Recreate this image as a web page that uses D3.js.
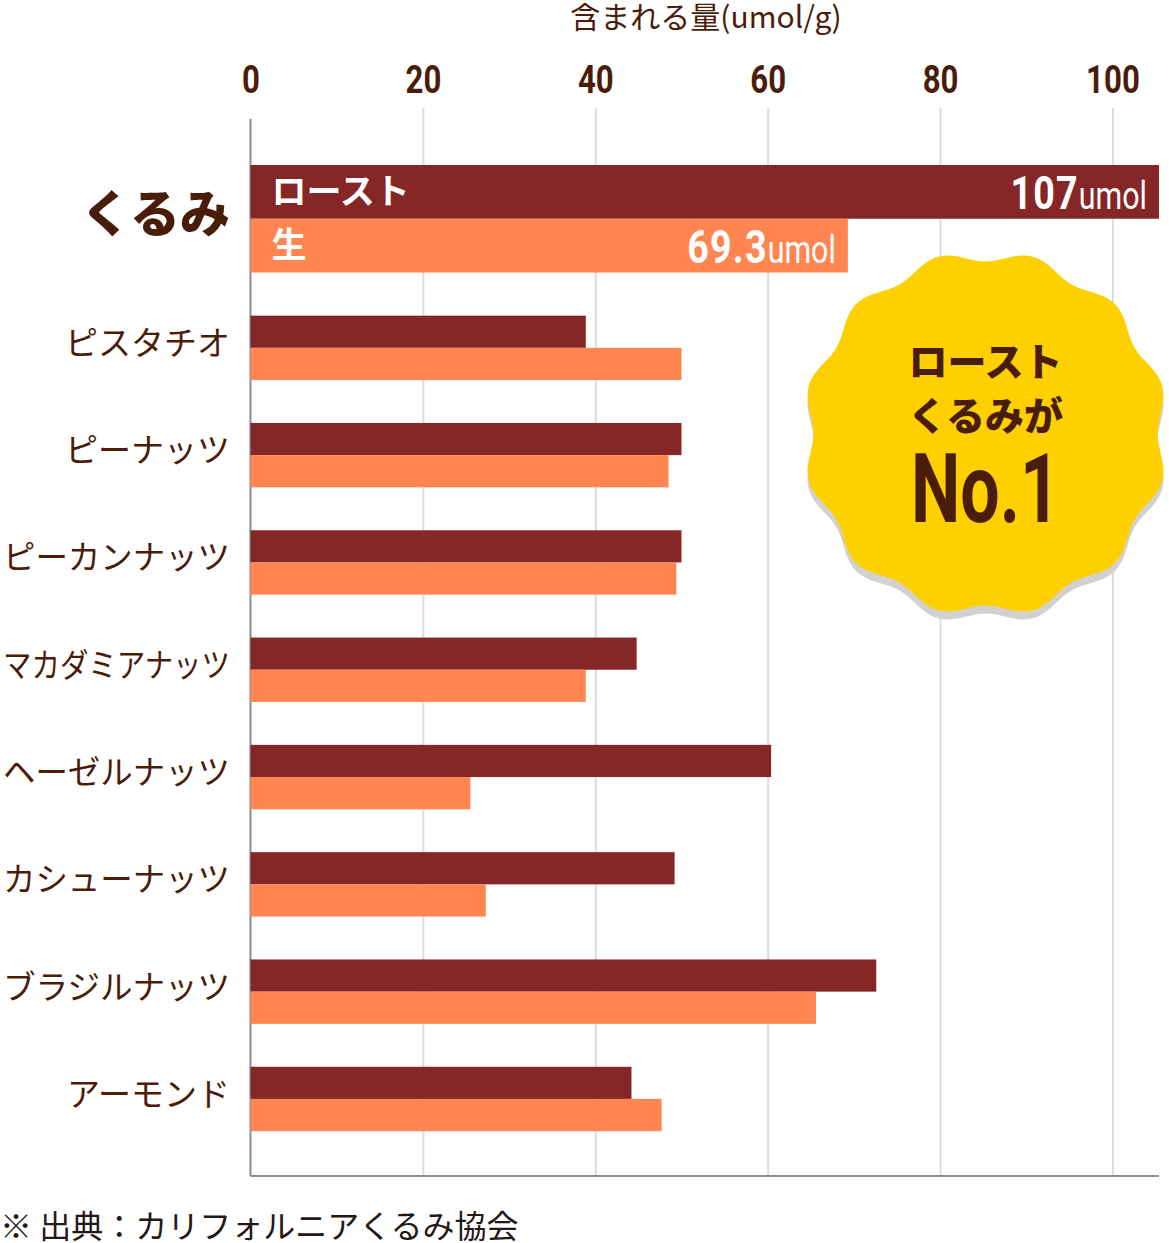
<!DOCTYPE html>
<html>
  <head>
    <meta charset="utf-8" />
    <title>含まれる量</title>
    <script src="https://d3js.org/d3.v7.min.js"></script>
    <style>
      body { margin: 0; background: #fff; }
      svg { display: block; }
    </style>
  </head>
  <body>
    <svg id="chart" width="1169" height="1243"></svg>

    <script>
      // Datos
      const walnutName = "くるみ";
      const walnutRoast = 107;
      const walnutRaw = 69.3;
      const categories = ["ピスタチオ", "ピーナッツ", "ピーカンナッツ", "マカダミアナッツ", "ヘーゼルナッツ", "カシューナッツ", "ブラジルナッツ", "アーモンド"];
      const roastValues = [38.9, 50.0, 50.0, 44.8, 60.4, 49.2, 72.6, 44.2];
      const rawValues = [50.0, 48.5, 49.4, 38.9, 25.5, 27.3, 65.6, 47.7];
      const seriesNames = ["ロースト", "生"];
      const xTicks = [0, 20, 40, 60, 80, 100];
      const unit = "umol";
      const axisTitle = "含まれる量(umol/g)";
      const badgeLines = ["ロースト", "くるみが", "No.1"];
      const footnote = "※ 出典：カリフォルニアくるみ協会";

      const brown = "#4a1c0a";
      const colors = { roast: "#862727", raw: "#ff8551" };
      const jp = "'Noto Sans CJK JP', 'Noto Sans', sans-serif";
      const cond = "Roboto, 'Noto Sans', sans-serif";

      const svg = d3.select("#chart");
      const gridTop = 108, gridBottom = 1176;
      const labelRight = 230, labelMaxWidth = 227;

      // Escalas
      const x = d3.scaleLinear().domain([0, 105.4]).range([250.5, 1159]).clamp(true);
      const yWalnut = d3.scaleBand().domain([walnutName]).range([165, 272.5]);
      const y = d3.scaleBand().domain(categories).range([294.2, 1152.6]).paddingInner(0.4).paddingOuter(0.2);
      const inner = d3.scaleBand().domain(["roast", "raw"]);

      // Título del eje
      svg.append("text")
        .attr("x", 706).attr("y", 28)
        .attr("text-anchor", "middle")
        .attr("font-family", jp).attr("font-size", 30)
        .attr("fill", brown)
        .text(axisTitle);

      // Líneas de cuadrícula
      const grid = svg.append("g")
        .attr("transform", `translate(0,${gridTop})`)
        .call(d3.axisBottom(x).tickValues(xTicks.slice(1)).tickSize(gridBottom - gridTop).tickFormat(""));
      grid.select(".domain").remove();
      grid.selectAll("line").attr("stroke", "#dcdcdc").attr("stroke-width", 2);

      // Etiquetas del eje x (arriba)
      const xAxis = svg.append("g")
        .attr("transform", "translate(0,93)")
        .call(d3.axisTop(x).tickValues(xTicks).tickSize(0).tickPadding(0));
      xAxis.select(".domain").remove();
      xAxis.selectAll("text")
        .attr("font-family", cond).attr("font-weight", 700).attr("font-size", 39)
        .attr("fill", brown)
        .attr("transform", "scale(0.8,1)");

      // Ejes
      svg.append("line")
        .attr("x1", x(0)).attr("x2", x(0)).attr("y1", 119).attr("y2", gridBottom)
        .attr("stroke", "#8e8e8e").attr("stroke-width", 2);
      svg.append("line")
        .attr("x1", x(0)).attr("x2", x.range()[1]).attr("y1", gridBottom).attr("y2", gridBottom)
        .attr("stroke", "#8e8e8e").attr("stroke-width", 2);

      // Barras de くるみ
      inner.range([0, yWalnut.bandwidth()]);
      const walnutRows = [
        { key: "roast", name: seriesNames[0], value: walnutRoast },
        { key: "raw", name: seriesNames[1], value: walnutRaw },
      ];
      const wg = svg.append("g").attr("transform", `translate(0,${yWalnut(walnutName)})`);
      wg.selectAll("rect").data(walnutRows).join("rect")
        .attr("x", x(0)).attr("y", (d) => inner(d.key))
        .attr("width", (d) => x(d.value) - x(0))
        .attr("height", inner.bandwidth())
        .attr("fill", (d) => colors[d.key]);
      wg.selectAll("text.series").data(walnutRows).join("text")
        .attr("class", "series")
        .attr("x", x(0) + 21).attr("y", (d) => inner(d.key) + inner.bandwidth() / 2)
        .attr("dy", "0.36em")
        .attr("font-family", jp).attr("font-weight", 700).attr("font-size", 35)
        .attr("fill", "#fff")
        .text((d) => d.name);
      const vals = wg.selectAll("text.val").data(walnutRows).join("text")
        .attr("class", "val")
        .attr("text-anchor", "end")
        .attr("transform", (d) => `translate(${x(d.value) - 12},${inner(d.key) + inner.bandwidth() - 10}) scale(0.8,1)`)
        .attr("fill", "#fff");
      vals.append("tspan")
        .attr("font-family", cond).attr("font-weight", 700).attr("font-size", 47)
        .attr("letter-spacing", 1.5)
        .text((d) => d.value);
      vals.append("tspan")
        .attr("font-family", cond).attr("font-weight", 400).attr("font-size", 38)
        .text(unit);

      svg.append("text")
        .attr("x", labelRight).attr("y", yWalnut(walnutName) + yWalnut.bandwidth() / 2 - 5)
        .attr("dy", "0.36em")
        .attr("text-anchor", "end")
        .attr("font-family", jp).attr("font-weight", 900).attr("font-size", 50)
        .attr("fill", brown)
        .text(walnutName);

      // Barras del resto de frutos secos
      inner.range([0, y.bandwidth()]);
      const rows = categories.map((c, i) => ({ cat: c, roast: roastValues[i], raw: rawValues[i] }));
      const groups = svg.append("g").selectAll("g").data(rows).join("g")
        .attr("transform", (d) => `translate(0,${y(d.cat)})`);
      groups.selectAll("rect")
        .data((d) => ["roast", "raw"].map((k) => ({ key: k, value: d[k] })))
        .join("rect")
        .attr("x", x(0)).attr("y", (d) => inner(d.key))
        .attr("width", (d) => x(d.value) - x(0))
        .attr("height", inner.bandwidth())
        .attr("fill", (d) => colors[d.key]);
      groups.append("text")
        .attr("x", labelRight).attr("y", y.bandwidth() / 2 - 5)
        .attr("dy", "0.36em")
        .attr("text-anchor", "end")
        .attr("font-family", jp).attr("font-size", 33)
        .attr("fill", brown)
        .text((d) => d.cat)
        .each(function () {
          // Las etiquetas largas se comprimen para caber en el margen
          if (this.getComputedTextLength() > labelMaxWidth) {
            d3.select(this).attr("textLength", labelMaxWidth).attr("lengthAdjust", "spacingAndGlyphs");
          }
        });

      // Insignia "No.1"
      const bx = 985.5, by = 433.5;
      const wavy = d3.lineRadial()
        .angle((d) => (d * Math.PI) / 180)
        .radius((d) => 177.5 - 5.5 * Math.cos((12 * d * Math.PI) / 180))
        .curve(d3.curveCardinalClosed);
      const angles = d3.range(0, 360, 3);
      svg.append("path")
        .attr("transform", `translate(${bx},${by + 8})`)
        .attr("d", wavy(angles))
        .attr("fill", "#d3d0d0");
      svg.append("path")
        .attr("transform", `translate(${bx},${by})`)
        .attr("d", wavy(angles))
        .attr("fill", "#ffd000");
      const badge = svg.append("g").attr("transform", `translate(${bx},0)`);
      badge.selectAll("text.jp").data(badgeLines.slice(0, 2)).join("text")
        .attr("class", "jp")
        .attr("y", (d, i) => 376 + i * 54)
        .attr("text-anchor", "middle")
        .attr("font-family", jp).attr("font-weight", 900).attr("font-size", 39)
        .attr("fill", brown)
        .text((d) => d);
      badge.append("text")
        .attr("transform", "translate(0,522) scale(0.72,1)")
        .attr("text-anchor", "middle")
        .attr("font-family", cond).attr("font-weight", 700).attr("font-size", 97)
        .attr("fill", brown)
        .text(badgeLines[2]);

      // Nota al pie
      svg.append("text")
        .attr("x", 0).attr("y", 1238)
        .attr("font-family", jp).attr("font-size", 32)
        .attr("fill", "#231815")
        .text(footnote);
    </script>
  </body>
</html>
